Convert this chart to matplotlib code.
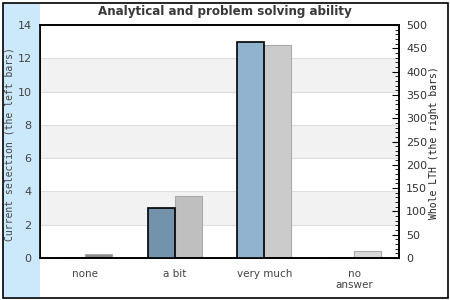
import matplotlib
matplotlib.use("Agg")
import matplotlib.pyplot as plt
from matplotlib.patches import Rectangle
import numpy as np

categories = ["none", "a bit", "very much", "no\nanswer"]
current_values = [0, 3, 13, 0]
whole_values = [8, 133, 457, 15]
current_colors = ["#7393ad", "#7393ad", "#92b3cf", "#92b3cf"]
whole_colors = ["#8c8c8c", "#bfbfbf", "#cbcbcb", "#d9d9d9"]
left_ticks = [0, 2, 4, 6, 8, 10, 12, 14]
right_ticks = [0, 50, 100, 150, 200, 250, 300, 350, 400, 450, 500]

fig = plt.figure(figsize=(4.5, 3), dpi=100)
fig.patches.append(Rectangle((3/450, 3/300), 37/450, 294/300, transform=fig.transFigure,
                             facecolor="#cce8fb", edgecolor="none", zorder=0))
fig.patches.append(Rectangle((2.5/450, 2.5/300), 445/450, 295/300, transform=fig.transFigure,
                             facecolor="none", edgecolor="black", linewidth=1.2, zorder=5))

ax = fig.add_axes([40/450, 1-258/300, 359/450, 233/300])
ax.set_xlim(-0.5, 3.5)
ax.set_ylim(0, 14)
ax2 = ax.twinx()
ax2.set_ylim(0, 500)
scale = 500 / 14
for i, y in enumerate(left_ticks[:-1]):
    if i % 2 == 1:
        ax2.axhspan(y * scale, (y + 2) * scale, color="#f2f2f2", zorder=0, lw=0)
for y in left_ticks[1:-1]:
    ax2.axhline(y * scale, color="#dedede", lw=0.8, zorder=0.5)

x = np.arange(len(categories))
w = 0.3
ax2.bar(x + w/2, whole_values, width=w, color=whole_colors, edgecolor="#aaaaaa", linewidth=0.8, zorder=2)
ax.set_zorder(ax2.get_zorder() + 1)
ax.patch.set_visible(False)
ax.bar(x - w/2, current_values, width=w, color=current_colors, edgecolor="black", linewidth=1.2, zorder=3)

ax.set_yticks(left_ticks)
ax.tick_params(axis="y", length=0, pad=6, labelsize=8, labelcolor="#444444")
ax.set_xticks(x)
ax.set_xticklabels(categories, fontsize=7.5, color="#444444", linespacing=1.1)
ax.tick_params(axis="x", length=0, pad=8)

ax2.set_yticks(right_ticks)
ax2.set_yticks(np.arange(0, 501, 10), minor=True)
ax2.tick_params(axis="y", which="major", direction="in", length=5, labelsize=8, labelcolor="#333333", pad=5)
ax2.tick_params(axis="y", which="minor", direction="in", length=3)
for a in (ax, ax2):
    for s in a.spines.values():
        s.set_linewidth(1.2)

fig.text(10/450, 1-144/300, "Current selection (the left bars)", rotation=90, ha="center", va="center",
         family="DejaVu Sans Mono", fontsize=7, color="#444444")
fig.text(434/450, 1-143/300, "Whole LTH (the right bars)", rotation=90, ha="center", va="center",
         family="DejaVu Sans Mono", fontsize=7, color="#222222")
fig.text(225/450, 1-12/300, "Analytical and problem solving ability", ha="center", va="center",
         fontsize=8.6, fontweight="bold", color="#3a3a3a")

fig.savefig("out.png", dpi=100)
